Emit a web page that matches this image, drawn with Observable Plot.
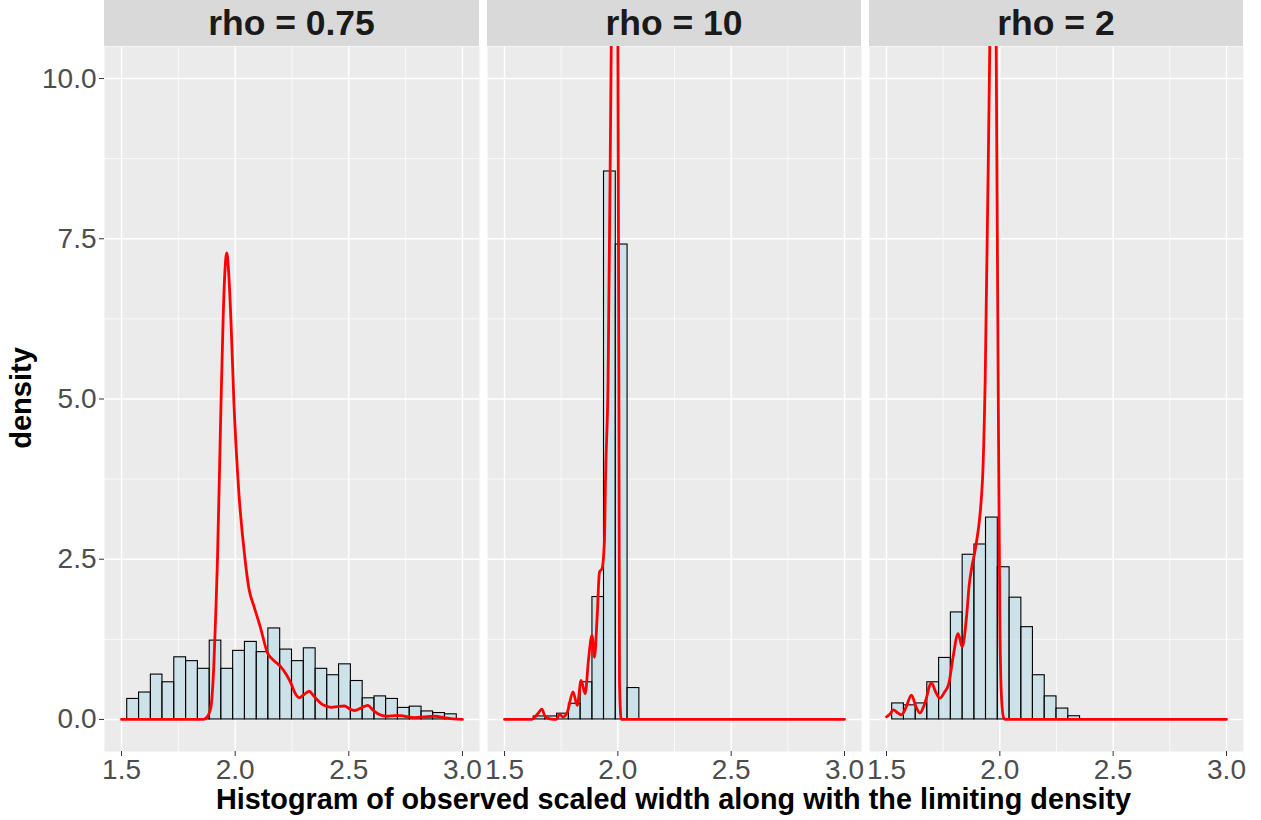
<!DOCTYPE html>
<html>
<head>
<meta charset="utf-8">
<script src="https://cdn.jsdelivr.net/npm/d3@7"></script>
<script src="https://cdn.jsdelivr.net/npm/@observablehq/plot@0.6"></script>
<style>
  html, body { margin: 0; padding: 0; background: #ffffff; }
  #chart { position: relative; width: 1261px; height: 820px; font-family: "Liberation Sans", Arial, sans-serif; overflow: hidden; }
  .panel { position: absolute; top: 0; }
  .strip { position: absolute; top: 0; height: 46px; line-height: 46px; background: #D9D9D9; color: #1A1A1A;
           font-weight: bold; font-size: 35.5px; text-align: center; }
  .xtitle { position: absolute; left: 104px; width: 1139px; top: 785px; font-size: 28.8px; line-height: 29px; font-weight: bold;
            text-align: center; color: #000; }
  .ytitle { position: absolute; left: 21px; top: 398px; font-size: 29px; line-height: 29px; font-weight: bold; color: #000;
            transform: translate(-50%, -50%) rotate(-90deg); white-space: nowrap; }
</style>
</head>
<body>
<div id="chart"></div>
<script>
// ---- Data ----
const panels = ["rho = 0.75", "rho = 10", "rho = 2"];

// common histogram bin edges (29 edges -> 28 bins)
const binEdges = [1.525, 1.577, 1.629, 1.680, 1.732, 1.784, 1.836, 1.888, 1.939, 1.991,
                  2.043, 2.095, 2.146, 2.198, 2.250, 2.302, 2.354, 2.405, 2.457, 2.509,
                  2.561, 2.613, 2.664, 2.716, 2.768, 2.820, 2.871, 2.923, 2.975];

const densRho075 = [0.32, 0.42, 0.70, 0.58, 0.97, 0.91, 0.79, 1.23, 0.79, 1.07,
                    1.21, 1.05, 1.42, 1.09, 0.91, 1.11, 0.79, 0.69, 0.86, 0.60,
                    0.33, 0.36, 0.32, 0.18, 0.20, 0.125, 0.10, 0.08];
const densRho10  = [0, 0, 0.047, 0.047, 0.09, 0.245, 0.58, 1.91, 8.55, 7.41,
                    0.49, 0, 0, 0, 0, 0, 0, 0, 0, 0,
                    0, 0, 0, 0, 0, 0, 0, 0];
const densRho2   = [0.25, 0.22, 0.25, 0.58, 0.96, 1.67, 2.57, 2.73, 3.15, 2.375,
                    1.90, 1.44, 0.69, 0.36, 0.17, 0.05, 0, 0, 0, 0,
                    0, 0, 0, 0, 0, 0, 0, 0];

// limiting density curves
const limX075 = [1.500, 1.860, 1.875, 1.893, 1.907, 1.915, 1.922, 1.935, 1.947, 1.955, 1.963, 1.970, 1.981, 1.995,
                 2.015, 2.044, 2.060, 2.084, 2.110, 2.143, 2.170, 2.201, 2.225, 2.246, 2.265, 2.282, 2.300, 2.326,
                 2.345, 2.363, 2.390, 2.422, 2.450, 2.481, 2.505, 2.525, 2.555, 2.584, 2.605, 2.628, 2.650, 2.672,
                 2.700, 2.731, 2.760, 2.790, 2.830, 2.878, 2.920, 2.960, 3.000];
const limY075 = [0, 0, 0.03, 0.19, 0.92, 1.70, 2.48, 4.52, 6.26, 7.00, 7.28, 7.05, 6.26, 4.90,
                 3.60, 2.48, 2.05, 1.75, 1.45, 1.03, 0.92, 0.82, 0.70, 0.56, 0.40, 0.34, 0.38, 0.44,
                 0.37, 0.30, 0.22, 0.19, 0.20, 0.21, 0.16, 0.14, 0.18, 0.22, 0.15, 0.09, 0.06, 0.05,
                 0.06, 0.06, 0.04, 0.03, 0.04, 0.05, 0.03, 0.01, 0];

const limX10 = [1.500, 1.620, 1.635, 1.647, 1.665, 1.680, 1.700, 1.728, 1.743, 1.758, 1.777, 1.802, 1.821,
                1.838, 1.856, 1.871, 1.886, 1.897, 1.909, 1.919, 1.930, 1.941, 1.9455, 1.957, 1.971, 1.993,
                2.0002, 2.0046, 2.0073, 2.0148, 3.000];
const limY10 = [0, 0, 0.04, 0.09, 0.16, 0.04, 0.01, 0, 0.08, 0.04, 0.11, 0.43, 0.22,
                0.61, 0.40, 0.95, 1.31, 0.97, 1.62, 2.30, 2.35, 2.80, 3.73, 5.30, 10.53, 18.7,
                10.53, 5.30, 0.61, 0, 0];

const limX2 = [1.500, 1.515, 1.530, 1.550, 1.566, 1.585, 1.610, 1.630, 1.647, 1.669, 1.698, 1.718, 1.735,
               1.755, 1.775, 1.794, 1.816, 1.834, 1.853, 1.865, 1.875, 1.894, 1.9235, 1.9354, 1.9557, 1.975,
               1.9839, 1.9927, 1.9998, 2.0073, 2.0174, 2.025, 3.000];
const limY2 = [0.04, 0.08, 0.15, 0.10, 0.07, 0.18, 0.38, 0.20, 0.10, 0.25, 0.57, 0.42, 0.33,
               0.42, 0.56, 0.98, 1.34, 1.13, 1.60, 2.10, 2.35, 2.70, 3.74, 5.30, 10.53, 15.6,
               10.53, 5.30, 1.66, 0.35, 0.02, 0, 0];

const xTicks = [1.5, 2.0, 2.5, 3.0];
const xMinor = [1.75, 2.25, 2.75];
const yTicks = [0, 2.5, 5, 7.5, 10];
const yMinor = [1.25, 3.75, 6.25, 8.75];

// ---- Build ----
const histVals = [densRho075, densRho10, densRho2];
const curves = [[limX075, limY075], [limX10, limY10], [limX2, limY2]];
const layout = [
  {left: 0,   width: 483, ml: 104, mr: 4},
  {left: 483, width: 382, ml: 4,   mr: 4},
  {left: 865, width: 396, ml: 4,   mr: 18}
];
const chart = document.getElementById("chart");
const fmt = d3.format(".1f");

panels.forEach((name, i) => {
  const L = layout[i];
  const bars = histVals[i]
    .map((v, k) => ({x1: binEdges[k], x2: binEdges[k + 1], y: v}))
    .filter(d => d.y > 0);
  const line = curves[i][0].map((x, k) => ({x, y: curves[i][1][k]}));

  const marks = [
    Plot.frame({fill: "#EBEBEB", stroke: null}),
    Plot.gridX(xMinor, {stroke: "white", strokeOpacity: 1, strokeWidth: 0.7}),
    Plot.gridY(yMinor, {stroke: "white", strokeOpacity: 1, strokeWidth: 0.7}),
    Plot.gridX(xTicks, {stroke: "white", strokeOpacity: 1, strokeWidth: 1.4}),
    Plot.gridY(yTicks, {stroke: "white", strokeOpacity: 1, strokeWidth: 1.4}),
    Plot.rectY(bars, {x1: "x1", x2: "x2", y1: 0, y2: "y", fill: "lightblue", fillOpacity: 0.5,
                      stroke: "black", strokeWidth: 1.1}),
    Plot.line(line, {x: "x", y: "y", stroke: "red", strokeWidth: 2.8, curve: "monotone-x", clip: true}),
    Plot.axisX(xTicks, {tickFormat: fmt, fontSize: 28, fill: "#4D4D4D", stroke: "#333333",
                        tickSize: 5, tickPadding: 3, label: null})
  ];
  if (i === 0) {
    marks.push(Plot.axisY(yTicks, {tickFormat: fmt, fontSize: 28, fill: "#4D4D4D", stroke: "#333333",
                                   tickSize: 5, tickPadding: 3, label: null}));
  }

  const svg = Plot.plot({
    width: L.width,
    height: 820,
    marginLeft: L.ml,
    marginRight: L.mr,
    marginTop: 46,
    marginBottom: 69,
    x: {domain: [1.425, 3.075], axis: null},
    y: {domain: [-0.5, 10.5], axis: null},
    style: {background: "transparent", fontFamily: "'Liberation Sans', Arial, sans-serif", overflow: "visible"},
    marks
  });
  svg.classList.add("panel");
  svg.style.left = L.left + "px";
  chart.appendChild(svg);

  const strip = document.createElement("div");
  strip.className = "strip";
  strip.style.left = (L.left + L.ml) + "px";
  strip.style.width = (L.width - L.ml - L.mr) + "px";
  strip.textContent = name;
  chart.appendChild(strip);
});

const xt = document.createElement("div");
xt.className = "xtitle";
xt.textContent = "Histogram of observed scaled width along with the limiting density";
chart.appendChild(xt);

const yt = document.createElement("div");
yt.className = "ytitle";
yt.textContent = "density";
chart.appendChild(yt);
</script>
</body>
</html>
